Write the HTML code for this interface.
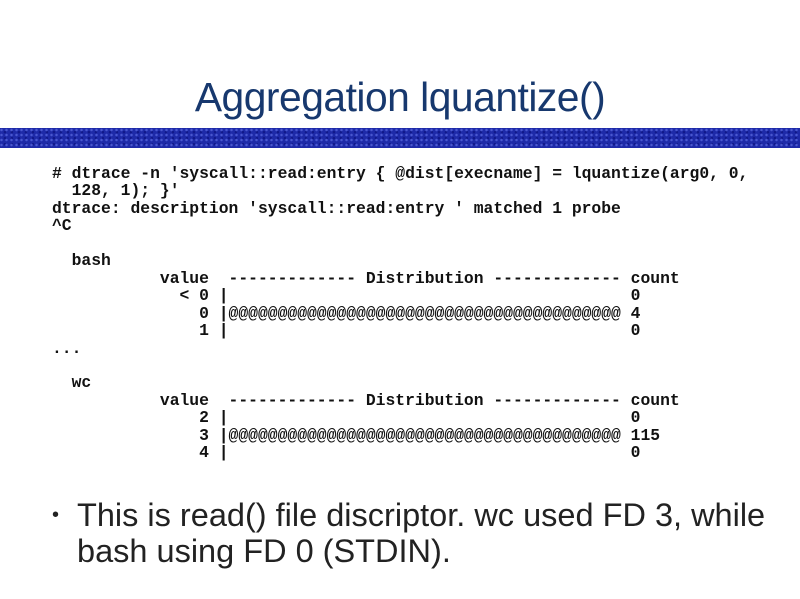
<!DOCTYPE html>
<html><head><meta charset="utf-8"><style>
body{margin:0;width:800px;height:599px;background:#fff;position:relative;overflow:hidden;font-family:"Liberation Sans",sans-serif}
.t{position:absolute;left:0;width:800px;top:74px;text-align:center;font-size:40.8px;color:#17386e;letter-spacing:-0.5px}
.band{position:absolute;left:0;top:128px;width:800px;height:20px;background:#1e2aa8;
background-image:radial-gradient(circle at 30% 40%,#4a58d0 1px,transparent 1.5px),radial-gradient(circle at 70% 70%,#10188a 1px,transparent 1.5px);background-size:5px 5px,7px 6px}
pre{position:absolute;left:52px;top:165px;margin:0;font-family:"Liberation Mono",monospace;font-weight:bold;font-size:16.35px;line-height:17.45px;color:#111}
.b{position:absolute;left:52px;top:497px;font-size:32.5px;line-height:36px;color:#222}
.b span{position:absolute;left:0;top:0;font-size:20px}
.b div{margin-left:25px}
</style></head><body>
<div class="t">Aggregation lquantize()</div>
<div class="band"></div>
<pre># dtrace -n 'syscall::read:entry { @dist[execname] = lquantize(arg0, 0,
  128, 1); }'
dtrace: description 'syscall::read:entry ' matched 1 probe
^C

  bash
           value  ------------- Distribution ------------- count
             &lt; 0 |                                         0
               0 |@@@@@@@@@@@@@@@@@@@@@@@@@@@@@@@@@@@@@@@@ 4
               1 |                                         0
...

  wc
           value  ------------- Distribution ------------- count
               2 |                                         0
               3 |@@@@@@@@@@@@@@@@@@@@@@@@@@@@@@@@@@@@@@@@ 115
               4 |                                         0</pre>
<div class="b"><span>•</span><div>This is read() file discriptor. wc used FD 3, while<br>bash using FD 0 (STDIN).</div></div>
</body></html>
